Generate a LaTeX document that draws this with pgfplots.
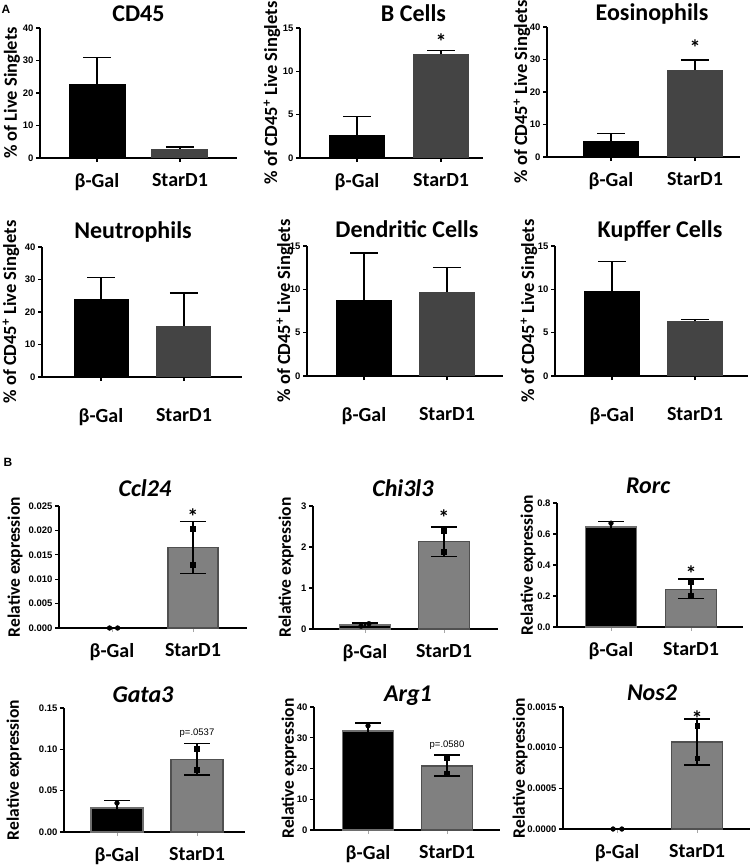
\documentclass[border=0pt]{standalone}
\usepackage{pgfplots}
\pgfplotsset{compat=1.18}
\usepackage{fontspec}
\setmainfont{Carlito}
\newfontfamily\arial{Liberation Sans}
\definecolor{gA}{RGB}{68,68,68}
\definecolor{gB}{RGB}{128,128,128}
\definecolor{gBe}{RGB}{80,80,80}
\definecolor{kE}{RGB}{110,110,110}
\newcommand\titfont{\fontsize{24}{26}\selectfont\bfseries}
\newcommand\xfont{\fontsize{20}{22}\selectfont\bfseries}
\newcommand\labfont{\fontsize{18.5}{20}\selectfont\bfseries}
\newcommand\labfontB{\fontsize{17.5}{19}\selectfont\bfseries}
\newcommand\tickfont{\arial\fontsize{9.5}{10}\selectfont\bfseries}
\newcommand\starfont{\fontsize{22}{22}\selectfont\bfseries}
\pgfplotsset{
 gp/.style={
  scale only axis, clip=false, anchor=south west, scaled y ticks=false,
  axis x line*=bottom, axis y line*=left,
  axis line style={line width=1.5pt,black},
  xtick={0,1}, xticklabels={β-Gal,StarD1},
  xticklabel style={font=\xfont, yshift=-8pt},
  ymin=0, tick align=outside, major tick length=4pt,
  y tick style={line width=1.2pt,black},
  yticklabel style={font=\tickfont, xshift=1pt},
  ylabel style={font=\labfont, anchor=center},
  title style={font=\titfont, anchor=base},
 },
 gpA/.style={gp, x tick style={line width=1.2pt,black}},
 gpB/.style={gp, x tick style={line width=0.6pt,black!35}, ylabel style={font=\labfontB}},
 ebA/.style={draw=none, mark=none, forget plot,
   error bars/y dir=plus, error bars/y explicit,
   error bars/error bar style={draw=black,line width=1.5pt},
   error bars/error mark options={rotate=90,draw=black,mark size=14pt,line width=1.5pt}},
 ebB/.style={draw=none, mark=none, forget plot,
   error bars/y dir=both, error bars/y explicit,
   error bars/error bar style={draw=black,line width=1.4pt},
   error bars/error mark options={rotate=90,draw=black,mark size=13pt,line width=1.4pt}},
 barK/.style={ybar, fill=black, draw=none, bar width=#1pt},
 barG/.style={ybar, fill=gA, draw=none, bar width=#1pt},
 barKB/.style={ybar, fill=black, draw=kE, line width=1.5pt, bar width=#1pt},
 barGB/.style={ybar, fill=gB, draw=gBe, line width=1.5pt, bar width=#1pt},
 ptK/.style={only marks, mark=*, mark size=2.4pt, black},
 ptS/.style={only marks, mark=square*, mark size=2.4pt, black},
}
\begin{document}
\begin{tikzpicture}
\path[use as bounding box] (0,0) rectangle (754pt,-868pt);
\node[font=\arial\fontsize{12}{12}\selectfont\bfseries] at (6pt,-9pt) {A};
\node[font=\arial\fontsize{12}{12}\selectfont\bfseries] at (8pt,-462pt) {B};

% ---------- Row 1 ----------
\begin{axis}[gpA, at={(40pt,-158pt)}, width=197pt, height=130pt,
 xmin=-0.687, xmax=1.687, ymax=40, ytick={0,10,20,30,40}, yticklabels={0,10,20,30,40},
 title={CD45}, title style={at={(axis description cs:0.5,1)}, yshift=1pt},
 ylabel={\% of Live Singlets}, ylabel style={at={(axis description cs:-0.142,0.5)}}]
\addplot[barK=57] coordinates {(0,22.7)};
\addplot[barG=57] coordinates {(1,2.8)};
\addplot[ebA] coordinates {(0,22.7) +- (0,8.3) (1,2.8) +- (0,0.6)};
\end{axis}

\begin{axis}[gpA, at={(300pt,-158pt)}, width=183pt, height=130pt,
 xmin=-0.679, xmax=1.5, ymax=15, ytick={0,5,10,15}, yticklabels={0,5,10,15},
 title={B Cells}, title style={at={(axis description cs:0.62,1)}, yshift=1pt},
 ylabel={\% of CD45\textsuperscript{+} Live Singlets}, ylabel style={at={(axis description cs:-0.153,0.5)}}]
\addplot[barK=56] coordinates {(0,2.7)};
\addplot[barG=56] coordinates {(1,12.0)};
\addplot[ebA] coordinates {(0,2.7) +- (0,2.1) (1,12.0) +- (0,0.4)};
\node[font=\starfont] at (axis cs:1,13.4) {*};
\end{axis}

\begin{axis}[gpA, at={(547pt,-157pt)}, width=193pt, height=130pt,
 xmin=-0.762, xmax=1.536, ymax=40, ytick={0,10,20,30,40}, yticklabels={0,10,20,30,40},
 title={Eosinophils}, title style={at={(axis description cs:0.544,1)}, yshift=1pt},
 ylabel={\% of CD45\textsuperscript{+} Live Singlets}, ylabel style={at={(axis description cs:-0.130,0.5)}}]
\addplot[barK=56] coordinates {(0,4.8)};
\addplot[barG=56] coordinates {(1,26.8)};
\addplot[ebA] coordinates {(0,4.8) +- (0,2.4) (1,26.8) +- (0,3.1)};
\node[font=\starfont] at (axis cs:1,33.5) {*};
\end{axis}

% ---------- Row 2 ----------
\begin{axis}[gpA, at={(42pt,-377pt)}, width=200pt, height=130pt,
 xticklabel style={yshift=-16pt},
 xmin=-0.711, xmax=1.699, ymax=40, ytick={0,10,20,30,40}, yticklabels={0,10,20,30,40},
 title={Neutrophils}, title style={at={(axis description cs:0.455,1)}, yshift=3pt},
 ylabel={\% of CD45\textsuperscript{+} Live Singlets}, ylabel style={at={(axis description cs:-0.155,0.5)}}]
\addplot[barK=55] coordinates {(0,24.0)};
\addplot[barG=55] coordinates {(1,15.8)};
\addplot[ebA] coordinates {(0,24.0) +- (0,6.6) (1,15.8) +- (0,10.1)};
\end{axis}

\begin{axis}[gpA, at={(307pt,-376pt)}, width=196pt, height=130pt,
 xticklabel style={yshift=-16pt},
 xmin=-0.687, xmax=1.675, ymax=15, ytick={0,5,10,15}, yticklabels={0,5,10,15},
 title={Dendritic Cells}, title style={at={(axis description cs:0.51,1)}, yshift=3pt},
 ylabel={\% of CD45\textsuperscript{+} Live Singlets}, ylabel style={at={(axis description cs:-0.112,0.5)}}]
\addplot[barK=56] coordinates {(0,8.8)};
\addplot[barG=56] coordinates {(1,9.7)};
\addplot[ebA] coordinates {(0,8.8) +- (0,5.4) (1,9.7) +- (0,2.8)};
\end{axis}

\begin{axis}[gpA, at={(555pt,-376pt)}, width=193pt, height=130pt,
 xticklabel style={yshift=-16pt},
 xmin=-0.687, xmax=1.639, ymax=15, ytick={0,5,10,15}, yticklabels={0,5,10,15},
 title={Kupffer Cells}, title style={at={(axis description cs:0.544,1)}, yshift=3pt},
 ylabel={\% of CD45\textsuperscript{+} Live Singlets}, ylabel style={at={(axis description cs:-0.135,0.5)}}]
\addplot[barK=56] coordinates {(0,9.8)};
\addplot[barG=56] coordinates {(1,6.3)};
\addplot[ebA] coordinates {(0,9.8) +- (0,3.4) (1,6.3) +- (0,0.2)};
\end{axis}

% ---------- Row 3 ----------
\begin{axis}[gpB, at={(59pt,-628pt)}, width=188pt, height=122pt,
 xmin=-0.654, xmax=1.667, ymax=0.025, ytick={0,0.005,0.01,0.015,0.02,0.025},
 yticklabels={0.000,0.005,0.010,0.015,0.020,0.025},
 title={\itshape Ccl24}, title style={at={(axis description cs:0.457,1)}, yshift=4pt},
 ylabel={Relative expression}, ylabel style={at={(axis description cs:-0.234,0.5)}}]
\addplot[barGB=50] coordinates {(1,0.0165)};
\addplot[ebB] coordinates {(1,0.0165) +- (0,0.0053)};
\addplot[ptK] coordinates {(-0.03,0) (0.07,0)};
\addplot[ptS] coordinates {(1,0.0203) (1,0.0129)};
\node[font=\starfont] at (axis cs:1,0.0228) {*};
\end{axis}

\begin{axis}[gpB, at={(313pt,-629pt)}, width=185pt, height=123pt,
 xmin=-0.658, xmax=1.684, ymax=3, ytick={0,1,2,3}, yticklabels={0,1,2,3},
 title={\itshape Chi3l3}, title style={at={(axis description cs:0.486,1)}, yshift=4pt},
 ylabel={Relative expression}, ylabel style={at={(axis description cs:-0.146,0.5)}}]
\addplot[barKB=51] coordinates {(0,0.10)};
\addplot[barGB=51] coordinates {(1,2.13)};
\addplot[ebB] coordinates {(0,0.10) +- (0,0.05) (1,2.13) +- (0,0.36)};
\addplot[ptK] coordinates {(0.05,0.13) (-0.05,0.07)};
\addplot[ptS] coordinates {(1,2.40) (1,1.88)};
\node[font=\starfont] at (axis cs:1,2.72) {*};
\end{axis}

\begin{axis}[gpB, at={(557pt,-627pt)}, width=186pt, height=124pt,
 xmin=-0.675, xmax=1.65, ymax=0.8, ytick={0,0.2,0.4,0.6,0.8}, yticklabels={0.0,0.2,0.4,0.6,0.8},
 title={\itshape Rorc}, title style={at={(axis description cs:0.49,1)}, yshift=4pt},
 ylabel={Relative expression}, ylabel style={at={(axis description cs:-0.156,0.5)}}]
\addplot[barKB=51] coordinates {(0,0.645)};
\addplot[barGB=51] coordinates {(1,0.243)};
\addplot[ebB] coordinates {(0,0.645) +- (0,0.037) (1,0.247) +- (0,0.063)};
\addplot[ptK] coordinates {(0,0.67) (0,0.62)};
\addplot[ptS] coordinates {(1,0.29) (1,0.205)};
\node[font=\starfont] at (axis cs:1,0.345) {*};
\end{axis}

% ---------- Row 4 ----------
\begin{axis}[gpB, at={(64pt,-832pt)}, width=181pt, height=124pt,
 xmin=-0.6625, xmax=1.6, ymax=0.15, ytick={0,0.05,0.1,0.15}, yticklabels={0.00,0.05,0.10,0.15},
 title={\itshape Gata3}, title style={at={(axis description cs:0.436,1)}, yshift=0pt},
 ylabel={Relative expression}, ylabel style={at={(axis description cs:-0.276,0.5)}}]
\addplot[barKB=52] coordinates {(0,0.029)};
\addplot[barGB=52] coordinates {(1,0.088)};
\addplot[ebB] coordinates {(0,0.029) +- (0,0.009) (1,0.088) +- (0,0.019)};
\addplot[ptK] coordinates {(0,0.035) (0,0.022)};
\addplot[ptS] coordinates {(1,0.101) (1,0.075)};
\node[font=\arial\fontsize{9.5}{9.5}\selectfont] at (axis cs:1,0.12) {p=.0537};
\end{axis}

\begin{axis}[gpB, at={(314pt,-830pt)}, width=186pt, height=123pt,
 xmin=-0.684, xmax=1.671, ymax=40, ytick={0,10,20,30,40}, yticklabels={0,10,20,30,40},
 title={\itshape Arg1}, title style={at={(axis description cs:0.505,1)}, yshift=0pt},
 ylabel={Relative expression}, ylabel style={at={(axis description cs:-0.134,0.5)}}]
\addplot[barKB=51] coordinates {(0,32.2)};
\addplot[barGB=51] coordinates {(1,20.8)};
\addplot[ebB] coordinates {(0,32.6) +- (0,2.2) (1,21.0) +- (0,3.4)};
\addplot[ptK] coordinates {(0,33.9) (0,30.5)};
\addplot[ptS] coordinates {(1,23.5) (1,18.2)};
\node[font=\arial\fontsize{9.5}{9.5}\selectfont] at (axis cs:1,27.6) {p=.0580};
\end{axis}

\begin{axis}[gpB, at={(563pt,-829pt)}, width=187pt, height=122pt,
 xmin=-0.675, xmax=1.66, ymax=0.0015, ytick={0,0.0005,0.001,0.0015},
 yticklabels={0.0000,0.0005,0.0010,0.0015},
 title={\itshape Nos2}, title style={at={(axis description cs:0.476,1)}, yshift=1pt},
 ylabel={Relative expression}, ylabel style={at={(axis description cs:-0.230,0.5)}}]
\addplot[barGB=51] coordinates {(1,0.00107)};
\addplot[ebB] coordinates {(1,0.00107) +- (0,0.000285)};
\addplot[ptK] coordinates {(-0.05,0) (0.06,0)};
\addplot[ptS] coordinates {(1,0.00127) (1,0.00087)};
\node[font=\starfont] at (axis cs:1,0.00136) {*};
\end{axis}
\end{tikzpicture}
\end{document}
